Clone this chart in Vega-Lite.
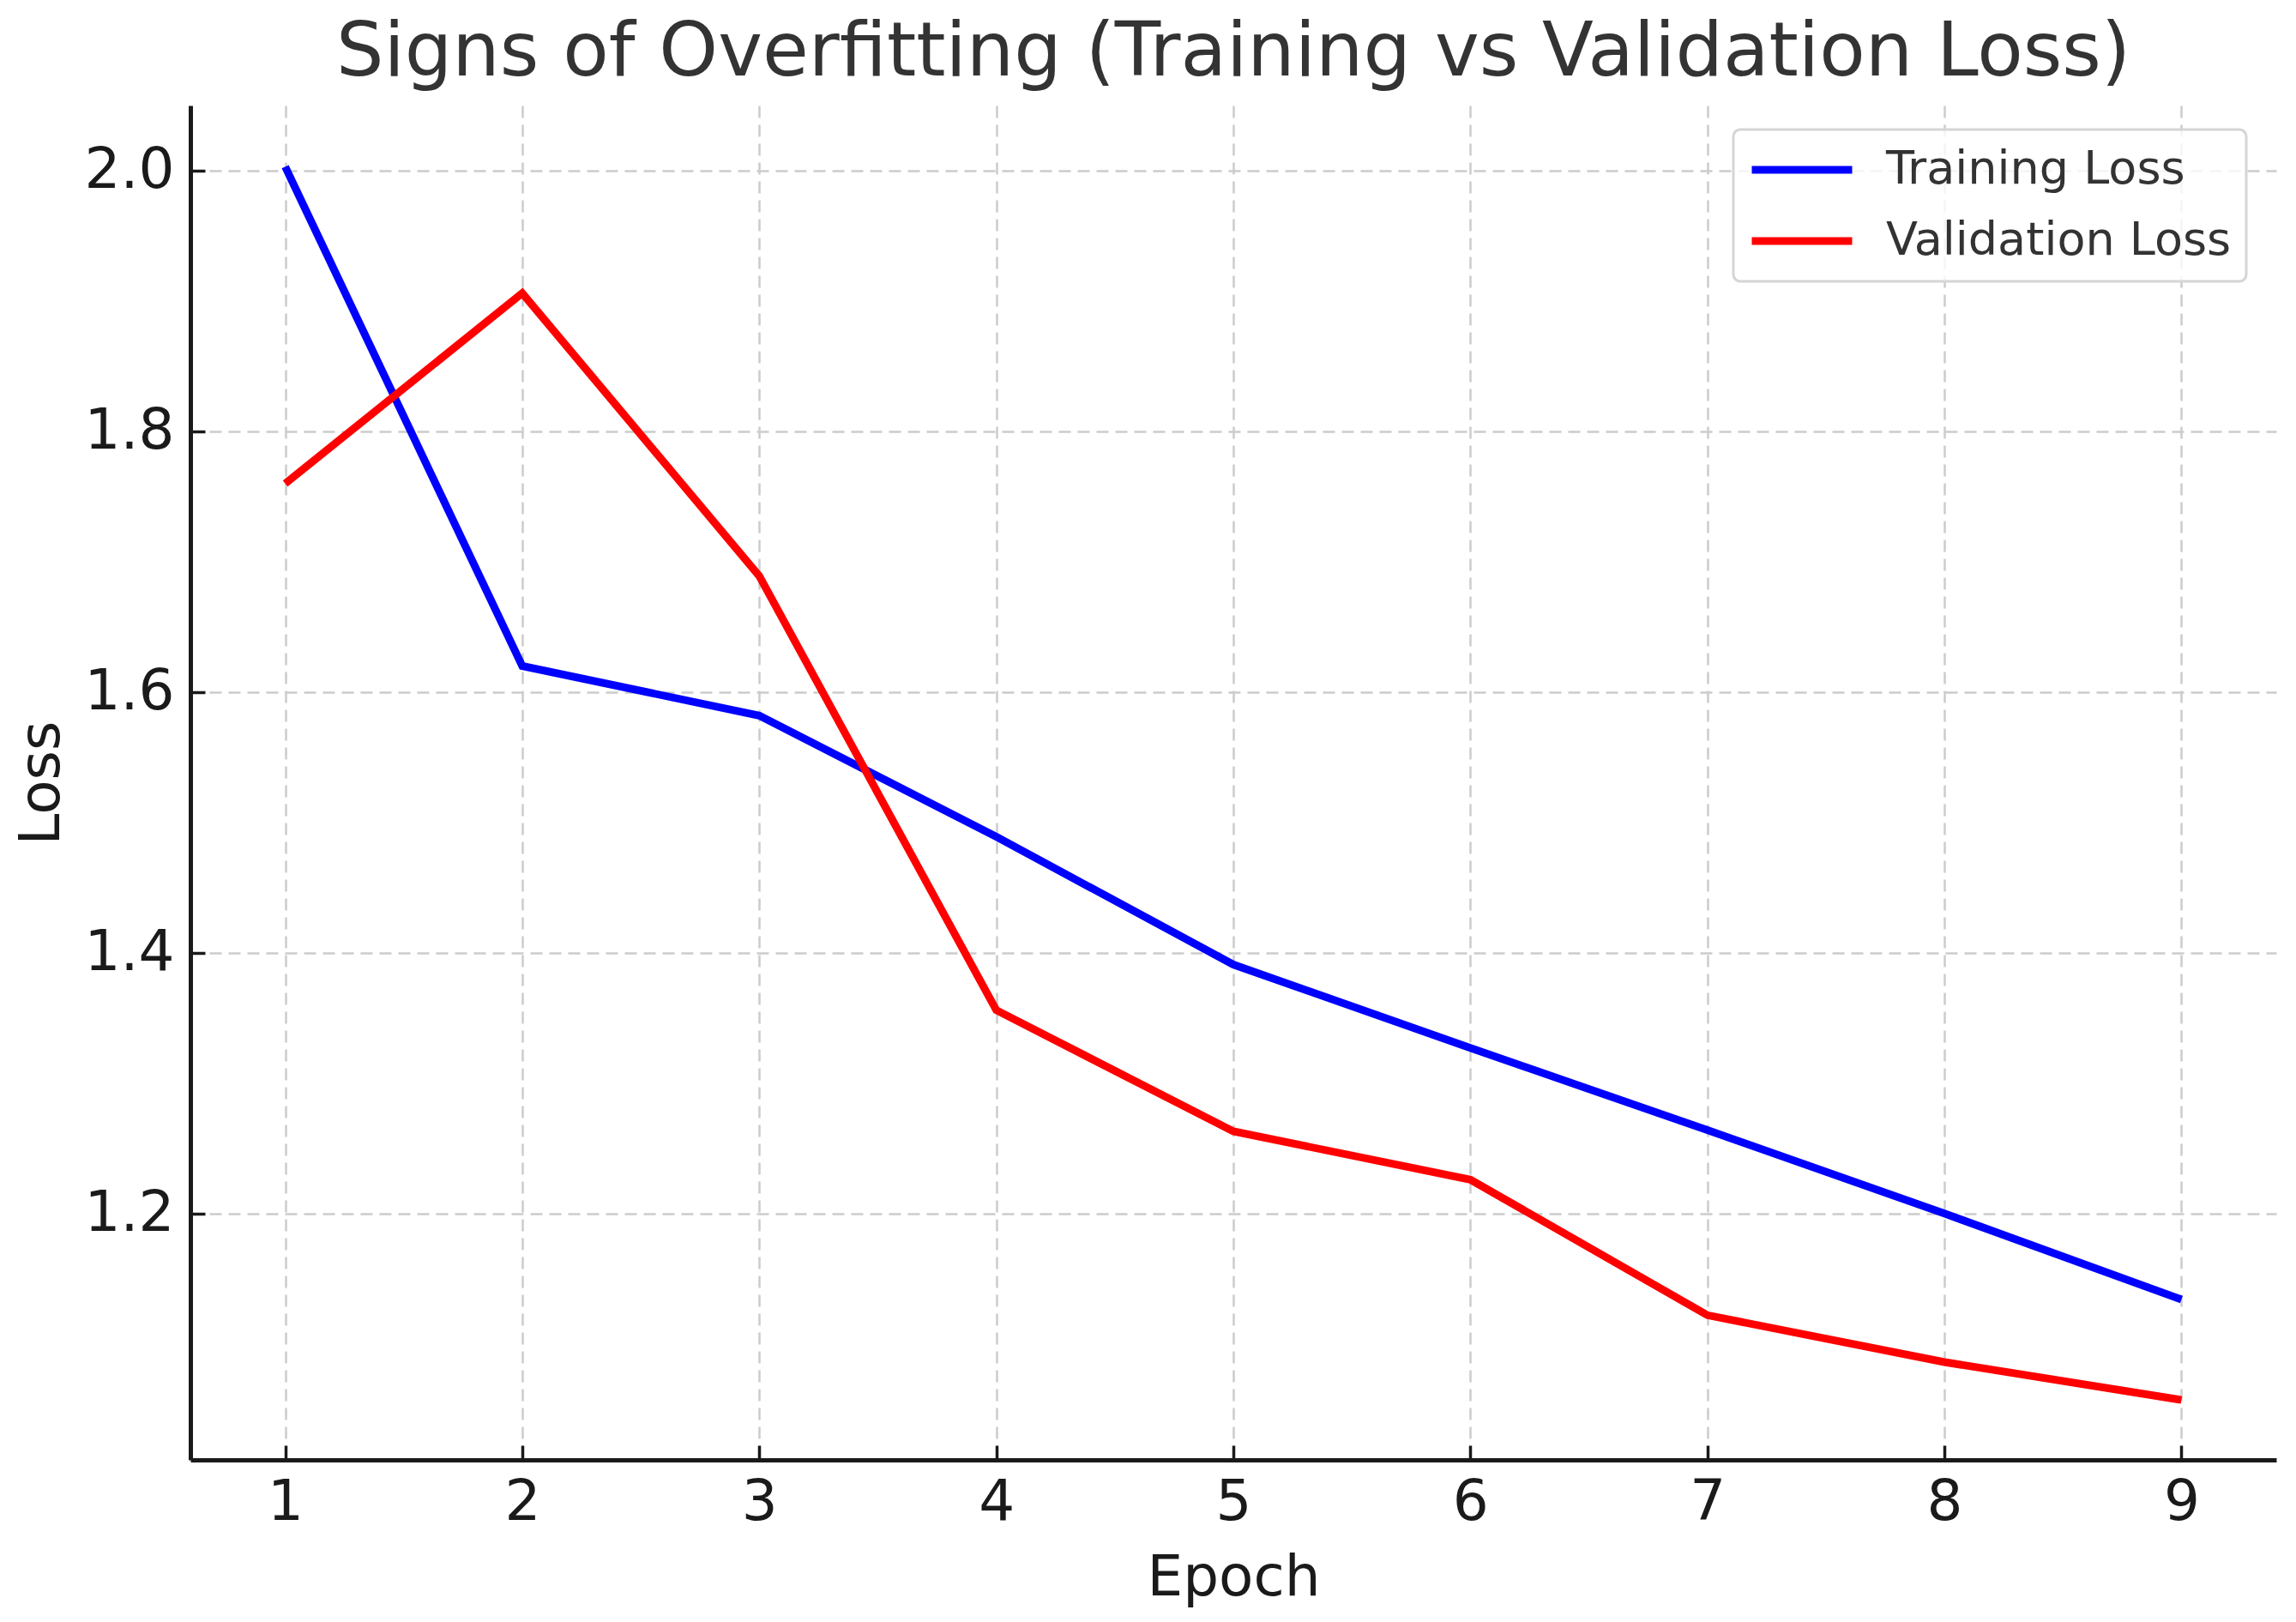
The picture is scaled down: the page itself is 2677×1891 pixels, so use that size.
{
  "$schema": "https://vega.github.io/schema/vega-lite/v6.json",
  "width": 2432,
  "height": 1579,
  "autosize": {"type": "none"},
  "padding": {"left": 222, "top": 123, "right": 23, "bottom": 189},
  "background": "white",
  "config": {
    "view": {"stroke": null},
    "font": "DejaVu Sans",
    "axis": {
      "labelFont": "DejaVu Sans",
      "titleFont": "DejaVu Sans",
      "labelFontSize": 66,
      "titleFontSize": 66,
      "titleFontWeight": "normal",
      "labelColor": "#1a1a1a",
      "titleColor": "#1a1a1a",
      "domainColor": "#1a1a1a",
      "domainWidth": 5,
      "tickColor": "#1a1a1a",
      "tickWidth": 3.5,
      "tickSize": -17,
      "grid": true,
      "gridColor": "#cccccc",
      "gridWidth": 2.5,
      "gridDash": [14, 8]
    },
    "legend": {
      "labelFont": "DejaVu Sans",
      "labelFontSize": 54,
      "labelColor": "#333333",
      "labelLimit": 1000
    },
    "title": {
      "font": "DejaVu Sans",
      "fontSize": 87.5,
      "fontWeight": "normal",
      "color": "#333333"
    }
  },
  "title": {"text": "Signs of Overfitting (Training vs Validation Loss)", "anchor": "middle", "offset": 17},
  "data": {
    "values": [
      {"epoch": 1, "series": "Training Loss", "loss": 2.003},
      {"epoch": 2, "series": "Training Loss", "loss": 1.620},
      {"epoch": 3, "series": "Training Loss", "loss": 1.582},
      {"epoch": 4, "series": "Training Loss", "loss": 1.489},
      {"epoch": 5, "series": "Training Loss", "loss": 1.391},
      {"epoch": 6, "series": "Training Loss", "loss": 1.327},
      {"epoch": 7, "series": "Training Loss", "loss": 1.264},
      {"epoch": 8, "series": "Training Loss", "loss": 1.200},
      {"epoch": 9, "series": "Training Loss", "loss": 1.134},
      {"epoch": 1, "series": "Validation Loss", "loss": 1.760},
      {"epoch": 2, "series": "Validation Loss", "loss": 1.906},
      {"epoch": 3, "series": "Validation Loss", "loss": 1.689},
      {"epoch": 4, "series": "Validation Loss", "loss": 1.356},
      {"epoch": 5, "series": "Validation Loss", "loss": 1.263},
      {"epoch": 6, "series": "Validation Loss", "loss": 1.226},
      {"epoch": 7, "series": "Validation Loss", "loss": 1.122},
      {"epoch": 8, "series": "Validation Loss", "loss": 1.086},
      {"epoch": 9, "series": "Validation Loss", "loss": 1.057}
    ]
  },
  "mark": {"type": "line", "strokeWidth": 9, "strokeCap": "butt", "strokeJoin": "miter", "clip": true},
  "encoding": {
    "x": {
      "field": "epoch",
      "type": "quantitative",
      "title": "Epoch",
      "scale": {"domain": [0.6, 9.4], "nice": false, "zero": false},
      "axis": {"values": [1, 2, 3, 4, 5, 6, 7, 8, 9], "format": "d", "labelPadding": 34, "titlePadding": 23}
    },
    "y": {
      "field": "loss",
      "type": "quantitative",
      "title": "Loss",
      "scale": {"domain": [1.011, 2.05], "nice": false, "zero": false},
      "axis": {"values": [1.2, 1.4, 1.6, 1.8, 2.0], "format": ".1f", "labelPadding": 36, "titlePadding": 16}
    },
    "color": {
      "field": "series",
      "type": "nominal",
      "scale": {"domain": ["Training Loss", "Validation Loss"], "range": ["#0000ff", "#ff0000"]},
      "legend": {
        "title": null,
        "orient": "none",
        "legendX": 1799,
        "legendY": 28,
        "symbolType": "stroke",
        "symbolSize": 13689,
        "symbolStrokeWidth": 9,
        "labelOffset": 35,
        "clipHeight": 60,
        "rowPadding": 23,
        "padding": 17,
        "strokeColor": "#d5d5d5",
        "cornerRadius": 8,
        "fillColor": "rgba(255,255,255,0.8)",
        "encode": {"legend": {"update": {"strokeWidth": {"value": 3}}}}
      }
    }
  }
}
